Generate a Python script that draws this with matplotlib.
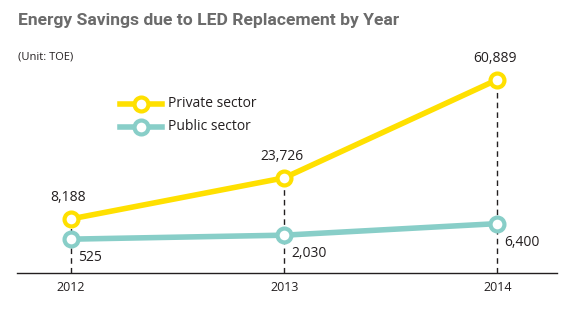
import matplotlib.pyplot as plt

years = [2012, 2013, 2014]
private = [8188, 23726, 60889]
public = [525, 2030, 6400]
private_labels = ["8,188", "23,726", "60,889"]
public_labels = ["525", "2,030", "6,400"]

YELLOW = "#FFE000"
TEAL = "#88CEC8"
INK = "#231f20"

plt.rcParams['font.family'] = ['Open Sans', 'DejaVu Sans']

fig = plt.figure(figsize=(5.71, 3.27), dpi=100)
ax = fig.add_axes([17 / 571, 54 / 327, 540 / 571, 228 / 327])

ax.set_xlim(2011.746, 2014.28)
ax.set_ylim(-12285, 74000)

# dashed drop lines from each private point to the axis
for x, y in zip(years, private):
    ax.plot([x, x], [-12285, y], color=INK, lw=1, ls=(0, (4, 3)), zorder=1)

marker = dict(marker="o", markersize=10, markerfacecolor="white", markeredgewidth=3)
ax.plot(years, private, color=YELLOW, lw=4, markeredgecolor=YELLOW, zorder=3, **marker)
ax.plot(years, public, color=TEAL, lw=4, markeredgecolor=TEAL, zorder=3, **marker)

for x, y, s in zip(years, private, private_labels):
    ax.annotate(s, (x, y), xytext=(-2, 10), textcoords="offset points",
                ha="center", va="bottom", fontsize=10, color=INK)
for x, y, s in zip(years, public, public_labels):
    ax.annotate(s, (x, y), xytext=(5, -8), textcoords="offset points",
                ha="left", va="top", fontsize=10, color=INK)

# legend drawn by hand in figure coordinates
for ypx, col, name in [(104, YELLOW, "Private sector"), (127, TEAL, "Public sector")]:
    yf = 1 - ypx / 327
    fig.add_artist(plt.Line2D([120 / 571, 162 / 571], [yf, yf], color=col, lw=4))
    fig.add_artist(plt.Line2D([141 / 571], [yf], color=col, markeredgecolor=col, **marker))
    fig.text(168 / 571, yf, name, fontsize=10, color=INK, va="center", ha="left")

for side in ["top", "right", "left"]:
    ax.spines[side].set_visible(False)
ax.spines["bottom"].set_color(INK)
ax.spines["bottom"].set_linewidth(1)
ax.set_yticks([])
ax.set_xticks(years)
ax.set_xticklabels([str(y) for y in years], fontsize=9, color=INK)
ax.tick_params(axis="x", length=0, pad=6)

fig.text(18 / 571, 1 - 21 / 327, "Energy Savings due to LED Replacement by Year",
         fontsize=12.6, fontweight="bold", color="#6b6b6b", va="center", ha="left",
         family=["Roboto", "DejaVu Sans"])
fig.text(18 / 571, 1 - 57 / 327, "(Unit: TOE)", fontsize=8, color=INK, va="center", ha="left")

fig.savefig("out.png", dpi=100)
